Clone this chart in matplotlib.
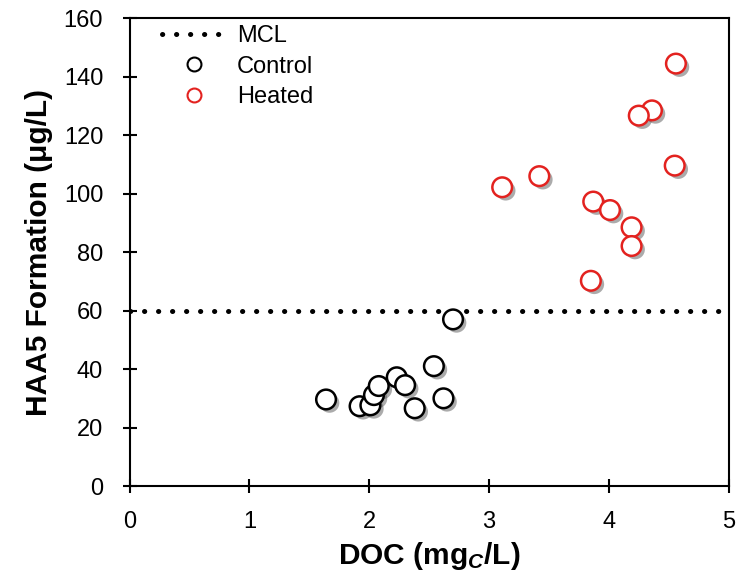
import matplotlib
matplotlib.use('Agg')
import matplotlib.pyplot as plt
import matplotlib.patheffects as pe
from matplotlib.lines import Line2D

plt.rcParams['font.family'] = ['Liberation Sans', 'DejaVu Sans']
plt.rcParams['mathtext.fontset'] = 'custom'
plt.rcParams['mathtext.rm'] = 'Liberation Sans:bold'
plt.rcParams['mathtext.it'] = 'Liberation Sans:bold:italic'
plt.rcParams['mathtext.bf'] = 'Liberation Sans:bold'

# DOC (mg C/L) vs HAA5 formation (ug/L)
control_doc = [1.64, 1.92, 2.01, 2.04, 2.08, 2.23, 2.30, 2.38, 2.54, 2.62, 2.70]
control_haa5 = [29.6, 27.3, 27.6, 31.1, 34.2, 37.2, 34.5, 26.6, 41.0, 30.0, 57.0]

heated_doc = [4.56, 4.36, 4.25, 4.55, 3.42, 3.11, 3.87, 4.01, 4.19, 4.19, 3.85]
heated_haa5 = [144.5, 128.5, 126.7, 109.6, 106.0, 102.2, 97.3, 94.4, 88.5, 82.1, 70.2]

mcl = 60

fig = plt.figure(figsize=(7.36, 5.81), dpi=100)
ax = fig.add_axes([0.176, 0.1635, 0.814, 0.805])

ax.axhline(mcl, color='black', linewidth=3.6, linestyle=(0, (0.05, 2.75)),
           dash_capstyle='round', zorder=1)

shadow = [pe.SimplePatchShadow(offset=(2.5, -2.5), shadow_rgbFace='0.35', alpha=0.5),
          pe.Normal()]
ax.scatter(control_doc, control_haa5, s=200, facecolor='white', edgecolor='black',
           linewidth=1.8, zorder=3, path_effects=shadow)
ax.scatter(heated_doc, heated_haa5, s=200, facecolor='white', edgecolor='#e3221f',
           linewidth=1.8, zorder=3, path_effects=shadow)

ax.set_xlim(0, 5)
ax.set_ylim(0, 160)
ax.set_xticks(range(0, 6))
ax.set_yticks(range(0, 161, 20))
ax.tick_params(direction='inout', length=10, width=1.5, labelsize=17)
ax.tick_params(axis='x', pad=13)
ax.tick_params(axis='y', pad=14)

for side in ['left', 'bottom', 'right', 'top']:
    ax.spines[side].set_linewidth(1.5)

ax.set_xlabel('DOC (mg$_{\\mathit{C}}$/L)', fontsize=21.5, fontweight='bold', labelpad=5)
ax.set_ylabel('HAA5 Formation (μg/L)', fontsize=21.5, fontweight='bold', labelpad=8)

handles = [
    Line2D([], [], color='black', linewidth=3.6, linestyle=(0, (0.05, 2.75)),
           dash_capstyle='round'),
    Line2D([], [], linestyle='none', marker='o', markersize=10, markerfacecolor='white',
           markeredgecolor='black', markeredgewidth=1.5),
    Line2D([], [], linestyle='none', marker='o', markersize=10, markerfacecolor='white',
           markeredgecolor='#e3221f', markeredgewidth=1.5),
]
ax.legend(handles, ['MCL', 'Control', 'Heated'], loc='upper left', frameon=False,
          fontsize=17, handlelength=2.75, handletextpad=0.45, labelspacing=0.35,
          borderaxespad=0.2, bbox_to_anchor=(0.03, 1.015))

fig.savefig('out.png', dpi=100)
